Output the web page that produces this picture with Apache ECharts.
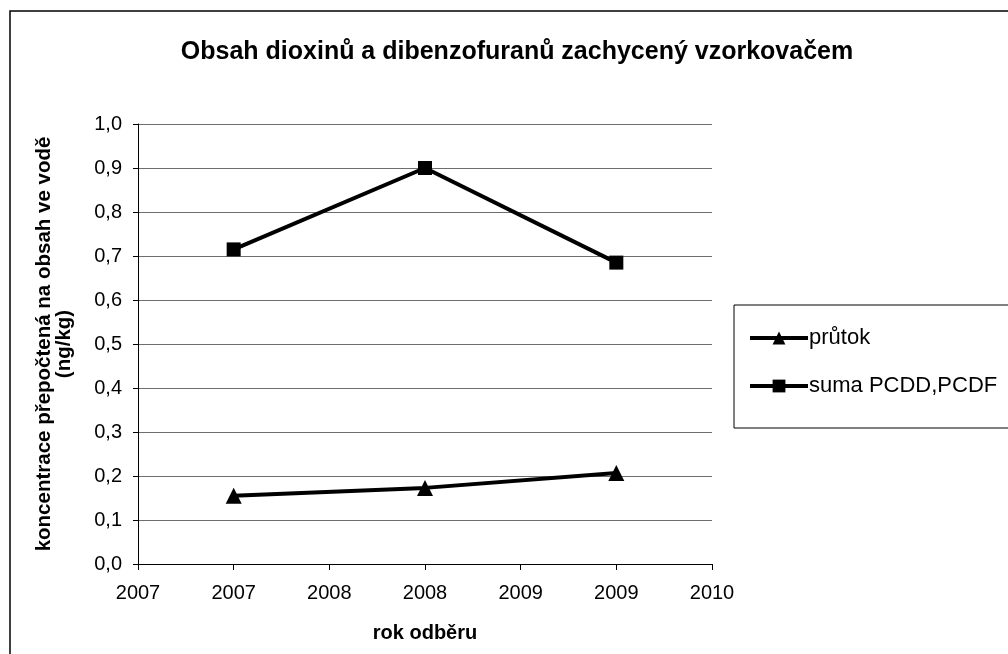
<!DOCTYPE html>
<html>
<head>
<meta charset="utf-8">
<script src="https://cdn.jsdelivr.net/npm/echarts@6/dist/echarts.min.js"></script>
<style>
  html, body { margin: 0; padding: 0; background: #fff; }
  #chart { width: 1008px; height: 654px; }
</style>
</head>
<body>
<div id="chart"></div>
<script>
// years of sampling
var years = [2007, 2008, 2009]
// průtok values (ng/kg)
var prutok = [0.155, 0.173, 0.207]
// suma PCDD,PCDF values (ng/kg)
var sumaPcdd = [0.715, 0.900, 0.685]
// labels shown on the x axis ticks (half-year steps, year format)
var xTickLabels = ['2007', '2007', '2008', '2008', '2009', '2009', '2010']
var xMin = 2006.5
var xStep = 0.5

var fontFamily = '"Liberation Sans", Arial, sans-serif'

var chart = echarts.init(document.getElementById('chart'))

function pairs (xs, ys) {
  return xs.map(function (x, i) { return [x, ys[i]] })
}

var option = {
  animation: false,
  backgroundColor: '#fff',
  textStyle: { fontFamily: fontFamily, color: '#000' },
  title: {
    text: 'Obsah dioxinů a dibenzofuranů zachycený vzorkovačem',
    left: 512,
    textAlign: 'center',
    top: 35,
    textStyle: { fontSize: 25, fontWeight: 'bold', color: '#000', fontFamily: fontFamily }
  },
  graphic: [
    {
      type: 'rect',
      shape: { x: 10, y: 11, width: 1100, height: 700 },
      style: { fill: 'none', stroke: '#000', lineWidth: 1.5 },
      silent: true
    }
  ],
  legend: {
    orient: 'vertical',
    left: 734,
    top: 305,
    padding: [22, 120, 31, 14],
    itemGap: 26,
    itemWidth: 58,
    itemHeight: 16,
    borderColor: '#000',
    borderWidth: 1,
    lineStyle: { width: 4 },
    textStyle: { fontSize: 22, color: '#000', fontFamily: fontFamily, padding: [0, 0, 0, -4] },
    data: ['průtok', 'suma PCDD,PCDF']
  },
  grid: {
    left: 138,
    right: 296,
    top: 124,
    bottom: 90
  },
  xAxis: {
    type: 'value',
    min: xMin,
    max: xMin + xStep * (xTickLabels.length - 1),
    interval: xStep,
    name: 'rok odběru',
    nameLocation: 'middle',
    nameGap: 59,
    nameTextStyle: { fontSize: 20, fontWeight: 'bold', color: '#000', fontFamily: fontFamily },
    axisLine: { show: true, lineStyle: { color: '#000', width: 1 } },
    axisTick: { show: true, inside: false, length: 6, lineStyle: { color: '#000' } },
    axisLabel: {
      fontSize: 20,
      color: '#000',
      margin: 19,
      formatter: function (v) {
        var idx = Math.round((v - xMin) / xStep)
        return xTickLabels[idx] || ''
      }
    },
    splitLine: { show: false }
  },
  yAxis: {
    type: 'value',
    min: 0,
    max: 1,
    interval: 0.1,
    name: 'koncentrace přepočtená na obsah ve vodě\n(ng/kg)',
    nameLocation: 'middle',
    nameGap: 64,
    nameTextStyle: { fontSize: 20.5, fontWeight: 'bold', color: '#000', lineHeight: 20, fontFamily: fontFamily },
    axisLine: { show: true, lineStyle: { color: '#000', width: 1 } },
    axisTick: { show: true, inside: false, length: 5, lineStyle: { color: '#000' } },
    axisLabel: {
      fontSize: 20,
      color: '#000',
      margin: 16,
      formatter: function (v) { return v.toFixed(1).replace('.', ',') }
    },
    splitLine: { show: true, lineStyle: { color: '#6e6e6e', width: 1 } }
  },
  series: [
    {
      name: 'průtok',
      type: 'line',
      data: pairs(years, prutok),
      symbol: 'triangle',
      symbolSize: 16,
      color: '#000',
      lineStyle: { color: '#000', width: 4 },
      itemStyle: { color: '#000' }
    },
    {
      name: 'suma PCDD,PCDF',
      type: 'line',
      data: pairs(years, sumaPcdd),
      symbol: 'rect',
      symbolSize: 14,
      color: '#000',
      lineStyle: { color: '#000', width: 4 },
      itemStyle: { color: '#000' }
    }
  ]
}

chart.setOption(option)
</script>
</body>
</html>
